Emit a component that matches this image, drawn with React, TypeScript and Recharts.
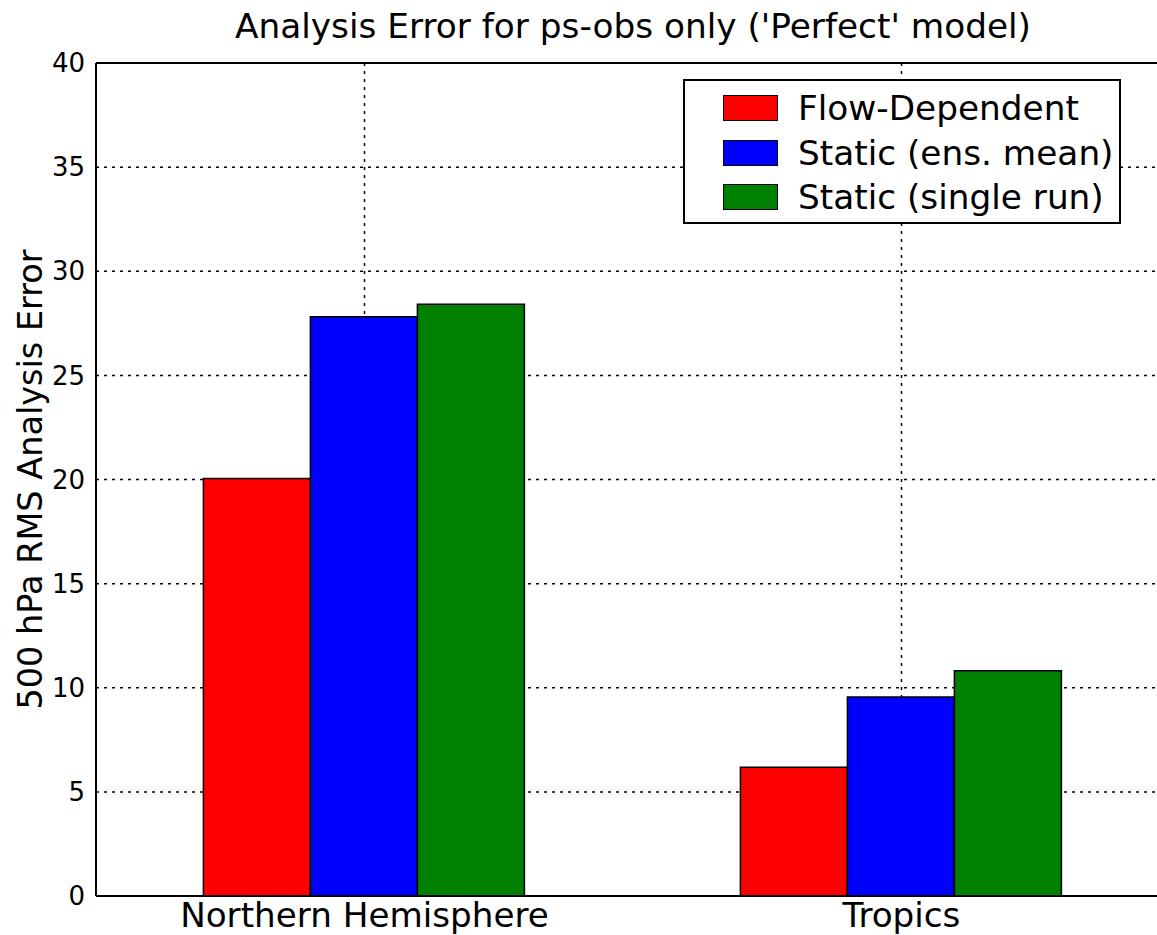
import { Bar, BarChart, CartesianGrid, ReferenceLine, XAxis, YAxis } from 'recharts'

const CATEGORIES = ['Northern Hemisphere', 'Tropics']
const FLOW_DEPENDENT = [20.05, 6.18]
const STATIC_ENS_MEAN = [27.82, 9.56]
const STATIC_SINGLE_RUN = [28.41, 10.82]
const Y_TICKS = [0, 5, 10, 15, 20, 25, 30, 35, 40]

const SERIES = [
  { key: 'flow', label: 'Flow-Dependent', color: '#ff0000' },
  { key: 'ensMean', label: 'Static (ens. mean)', color: '#0000ff' },
  { key: 'single', label: 'Static (single run)', color: '#008000' },
]

const data = CATEGORIES.map((name, i) => ({
  name,
  flow: FLOW_DEPENDENT[i],
  ensMean: STATIC_ENS_MEAN[i],
  single: STATIC_SINGLE_RUN[i],
}))

const FONT = '"DejaVu Sans", sans-serif'

export default function App() {
  return (
    <div
      style={{
        position: 'absolute',
        left: 0,
        top: 0,
        width: 1157,
        height: 935,
        overflow: 'hidden',
        background: '#fff',
        fontFamily: FONT,
      }}
    >
      <div
        style={{
          position: 'absolute',
          top: 9,
          left: 133,
          width: 1000,
          textAlign: 'center',
          fontSize: 34.3,
          lineHeight: 1,
          color: '#000',
          whiteSpace: 'nowrap',
        }}
      >
        Analysis Error for ps-obs only ('Perfect' model)
      </div>

      <BarChart
        width={1180}
        height={935}
        data={data}
        margin={{ top: 63, right: 10, bottom: 0, left: 0 }}
        barCategoryGap="20%"
        barGap={0}
        style={{ fontFamily: FONT }}
      >
        <CartesianGrid stroke="#000" strokeWidth={1.5} strokeDasharray="3 5" />
        <XAxis
          dataKey="name"
          height={39}
          tickLine={false}
          tickSize={0}
          tickMargin={7}
          axisLine={{ stroke: '#000', strokeWidth: 2 }}
          tick={{ fontSize: 34.2, fill: '#000' }}
        />
        <YAxis
          width={96}
          domain={[0, 40]}
          ticks={Y_TICKS}
          tickLine={false}
          tickSize={0}
          tickMargin={11}
          axisLine={{ stroke: '#000', strokeWidth: 2 }}
          tick={{ fontSize: 26, fill: '#000' }}
          label={{
            value: '500 hPa RMS Analysis Error',
            angle: -90,
            position: 'insideLeft',
            offset: 0,
            dx: 30,
            style: { fontSize: 33.5, fill: '#000', textAnchor: 'middle' },
          }}
        />
        <ReferenceLine y={40} stroke="#000" strokeWidth={2} />
        {SERIES.map((s) => (
          <Bar
            key={s.key}
            dataKey={s.key}
            name={s.label}
            fill={s.color}
            stroke="#000"
            strokeWidth={1.5}
            isAnimationActive={false}
          />
        ))}
      </BarChart>

      <div
        style={{
          position: 'absolute',
          left: 683,
          top: 79,
          width: 438,
          height: 145,
          boxSizing: 'border-box',
          border: '2px solid #000',
          background: '#fff',
          paddingTop: 5,
        }}
      >
        {SERIES.map((s) => (
          <div
            key={s.key}
            style={{ height: 44.5, display: 'flex', alignItems: 'center' }}
          >
            <div
              style={{
                marginLeft: 38,
                width: 55,
                height: 26,
                boxSizing: 'border-box',
                background: s.color,
                border: '1.5px solid #000',
              }}
            />
            <span style={{ marginLeft: 20, fontSize: 34.3, color: '#000' }}>
              {s.label}
            </span>
          </div>
        ))}
      </div>
    </div>
  )
}
